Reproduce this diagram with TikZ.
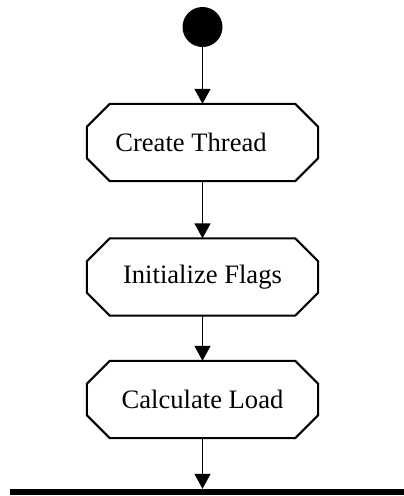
\documentclass[tikz,border=0pt]{standalone}
\usepackage{fontspec}
\setmainfont{Liberation Serif}
\usetikzlibrary{arrows.meta}
\tikzset{>={Triangle[width=16pt,length=15pt]}}

\begin{document}
\begin{tikzpicture}[x=1pt,y=-1pt,
    act/.style={rectangle, minimum width=231pt, minimum height=77pt, inner sep=0pt},
    start/.style={circle, fill=black, minimum size=40pt, inner sep=0pt},
    joinbar/.style={rectangle, fill=black, minimum width=394pt, minimum height=6pt, inner sep=0pt},
    flow/.style={->, line width=1.4pt}]

  \fontsize{26.6}{30}\selectfont

  \useasboundingbox (0,0) rectangle (404,496);

  % start, actions and the join bar
  \node[start] (init) at (202.5,27) {};
  \node[act] (create) at (202.5,142.5) {Create Thread\hspace*{23pt}};
  \node[act] (flags) at (202.5,277) {Initialize Flags};
  \node[act] (load) at (202.5,399.5) {Calculate Load};
  \node[joinbar] (join) at (207,492) {};

  % chamfered outlines round the actions
  \foreach \n in {create,flags,load}
    \draw[line width=2pt] ([xshift=23pt]\n.north west) -- ([xshift=-23pt]\n.north east)
      -- ([yshift=-23pt]\n.north east) -- ([yshift=23pt]\n.south east)
      -- ([xshift=-23pt]\n.south east) -- ([xshift=23pt]\n.south west)
      -- ([yshift=23pt]\n.south west) -- ([yshift=-23pt]\n.north west) -- cycle;

  \draw[flow] (init) -- (create);
  \draw[flow] (create) -- (flags);
  \draw[flow] (flags) -- (load);
  \draw[flow] (load) -- (load |- join.north); % load -> bar

\end{tikzpicture}
\end{document}
